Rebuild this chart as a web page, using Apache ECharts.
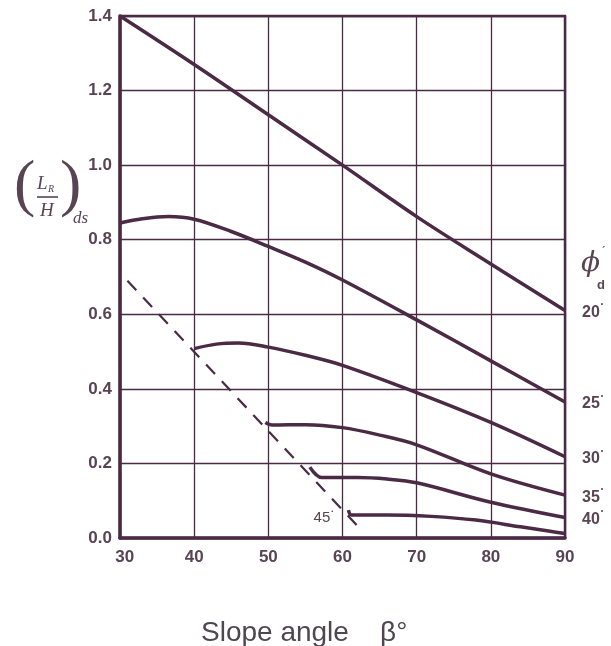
<!DOCTYPE html>
<html>
<head>
<meta charset="utf-8">
<script src="https://cdn.jsdelivr.net/npm/echarts@6/dist/echarts.min.js"></script>
<style>
html,body{margin:0;padding:0;background:#fff;}
#chart{width:611px;height:646px;}
</style>
</head>
<body>
<div id="chart"></div>
<script>
// ---- data ----
const xTicks = [30, 40, 50, 60, 70, 80, 90];
const yTicks = [0.0, 0.2, 0.4, 0.6, 0.8, 1.0, 1.2, 1.4];
const phiNames = ['20', '25', '30', '35', '40', '45'];
const phi20 = [[30,1.40],[40,1.27],[50,1.135],[60,1.0],[70,0.862],[80,0.735],[90,0.61]];
const phi25 = [[30,0.845],[33,0.856],[36.5,0.862],[40,0.855],[45,0.822],[50,0.782],[55,0.74],[60,0.692],[70,0.585],[80,0.475],[90,0.365]];
const phi30 = [[40,0.508],[43,0.52],[46,0.523],[50,0.512],[55,0.49],[60,0.463],[70,0.39],[80,0.31],[90,0.218]];
const phi35 = [[49.6,0.31],[50.5,0.303],[55,0.304],[60,0.296],[65,0.276],[70,0.25],[80,0.172],[90,0.115]];
const phi40 = [[55.6,0.19],[57.2,0.162],[62,0.162],[66,0.158],[70,0.148],[80,0.096],[90,0.055]];
const phi45 = [[60.8,0.075],[61.2,0.062],[66,0.062],[72,0.058],[78,0.048],[84,0.03],[88,0.018],[90,0.012]];
const limitLine = [[31,0.69],[62.6,0.02]];

const INK = '#4a2a44';
const TXT = '#5a4453';

const chart = echarts.init(document.getElementById('chart'));

function endLab(name){
  return {
    show: true,
    formatter: '{n|' + name + '}{d|•}',
    offset: [9, 2],
    rich: {
      n: {fontFamily: 'Liberation Sans', fontWeight: 'bold', fontSize: 16, color: TXT},
      d: {fontSize: 7, color: TXT, verticalAlign: 'top', padding: [0,0,16,1]}
    }
  };
}
function curve(name, data, lab){
  return {
    type: 'line', name: 'phi' + name, data: data, smooth: 0.35,
    showSymbol: false, symbol: 'none', silent: true,
    lineStyle: {color: INK, width: 3.5},
    endLabel: lab ? endLab(name) : {show: false},
    z: 5
  };
}

const option = {
  backgroundColor: '#ffffff',
  animation: false,
  title: {
    text: 'Slope angle    β°',
    left: 196, top: 614,
    textStyle: {fontFamily: 'Liberation Sans', fontWeight: 'normal', fontSize: 28, color: '#4e4650'}
  },
  grid: {left: 120, top: 16, width: 445, height: 522, show: true, borderColor: INK, borderWidth: 2.5, backgroundColor: 'transparent'},
  xAxis: {
    type: 'value', min: xTicks[0], max: xTicks[xTicks.length-1], interval: 10,
    axisLine: {show: true, lineStyle: {color: INK, width: 3.5}},
    axisTick: {show: false},
    splitLine: {show: true, lineStyle: {color: INK, width: 1.3}},
    axisLabel: {fontFamily: 'Liberation Sans', fontWeight: 'bold', fontSize: 17, color: TXT, margin: 11,
      formatter: v => (v === xTicks[0] ? '  ' : '') + String(v)}
  },
  yAxis: {
    type: 'value', min: yTicks[0], max: yTicks[yTicks.length-1], interval: 0.2,
    axisLine: {show: true, lineStyle: {color: INK, width: 3.5}},
    axisTick: {show: false},
    splitLine: {show: true, lineStyle: {color: INK, width: 1.3}},
    axisLabel: {fontFamily: 'Liberation Sans', fontWeight: 'bold', fontSize: 17, color: TXT, margin: 8,
      padding: [4, 0, 0, 0],
      formatter: v => v.toFixed(1)}
  },
  series: [
    {
      type: 'line', name: 'limit', data: limitLine, showSymbol: false, symbol: 'none', silent: true,
      lineStyle: {color: INK, width: 2.2, type: [13, 10]}, z: 4
    },
    curve(phiNames[0], phi20, true),
    curve(phiNames[1], phi25, true),
    curve(phiNames[2], phi30, true),
    curve(phiNames[3], phi35, true),
    curve(phiNames[4], phi40, true),
    Object.assign(curve(phiNames[5], phi45, false), {
      markPoint: {
        symbol: 'circle', symbolSize: 0, silent: true,
        data: [{coord: phi45[1], label: {
          show: true, position: 'left', distance: 18, offset: [0, 3],
          formatter: '{n|' + phiNames[5] + '}{d|•}',
          rich: {
            n: {fontFamily: 'Liberation Sans', fontSize: 15, color: TXT},
            d: {fontSize: 6, color: TXT, verticalAlign: 'top', padding: [0,0,13,1]}
          }
        }}]
      }
    })
  ],
  graphic: [
    {type: 'text', left: 14, top: 155, style: {text: '(', fontFamily: 'Liberation Serif', fontSize: 64, fill: TXT}},
    {type: 'text', left: 60, top: 155, style: {text: ')', fontFamily: 'Liberation Serif', fontSize: 64, fill: TXT}},
    {type: 'text', left: 37, top: 174, style: {text: 'L', fontFamily: 'Liberation Serif', fontStyle: 'italic', fontSize: 19, fill: TXT}},
    {type: 'text', left: 48, top: 184, style: {text: 'R', fontFamily: 'Liberation Serif', fontStyle: 'italic', fontSize: 10, fill: TXT}},
    {type: 'line', shape: {x1: 37, y1: 197, x2: 58, y2: 197}, style: {stroke: TXT, lineWidth: 1.6}},
    {type: 'text', left: 40, top: 201, style: {text: 'H', fontFamily: 'Liberation Serif', fontStyle: 'italic', fontSize: 19, fill: TXT}},
    {type: 'text', left: 73, top: 210, style: {text: 'ds', fontFamily: 'Liberation Serif', fontStyle: 'italic', fontSize: 17, fill: TXT}},
    {type: 'text', left: 581, top: 250, style: {text: 'ϕ', fontFamily: 'DejaVu Serif', fontStyle: 'italic', fontSize: 28, fill: TXT}},
    {type: 'text', left: 602, top: 247, style: {text: '´', fontFamily: 'Liberation Sans', fontSize: 12, fill: TXT}},
    {type: 'text', left: 597, top: 279, style: {text: 'd', fontFamily: 'Liberation Sans', fontWeight: 'bold', fontSize: 13, fill: TXT}}
  ]
};
chart.setOption(option);
</script>
</body>
</html>
